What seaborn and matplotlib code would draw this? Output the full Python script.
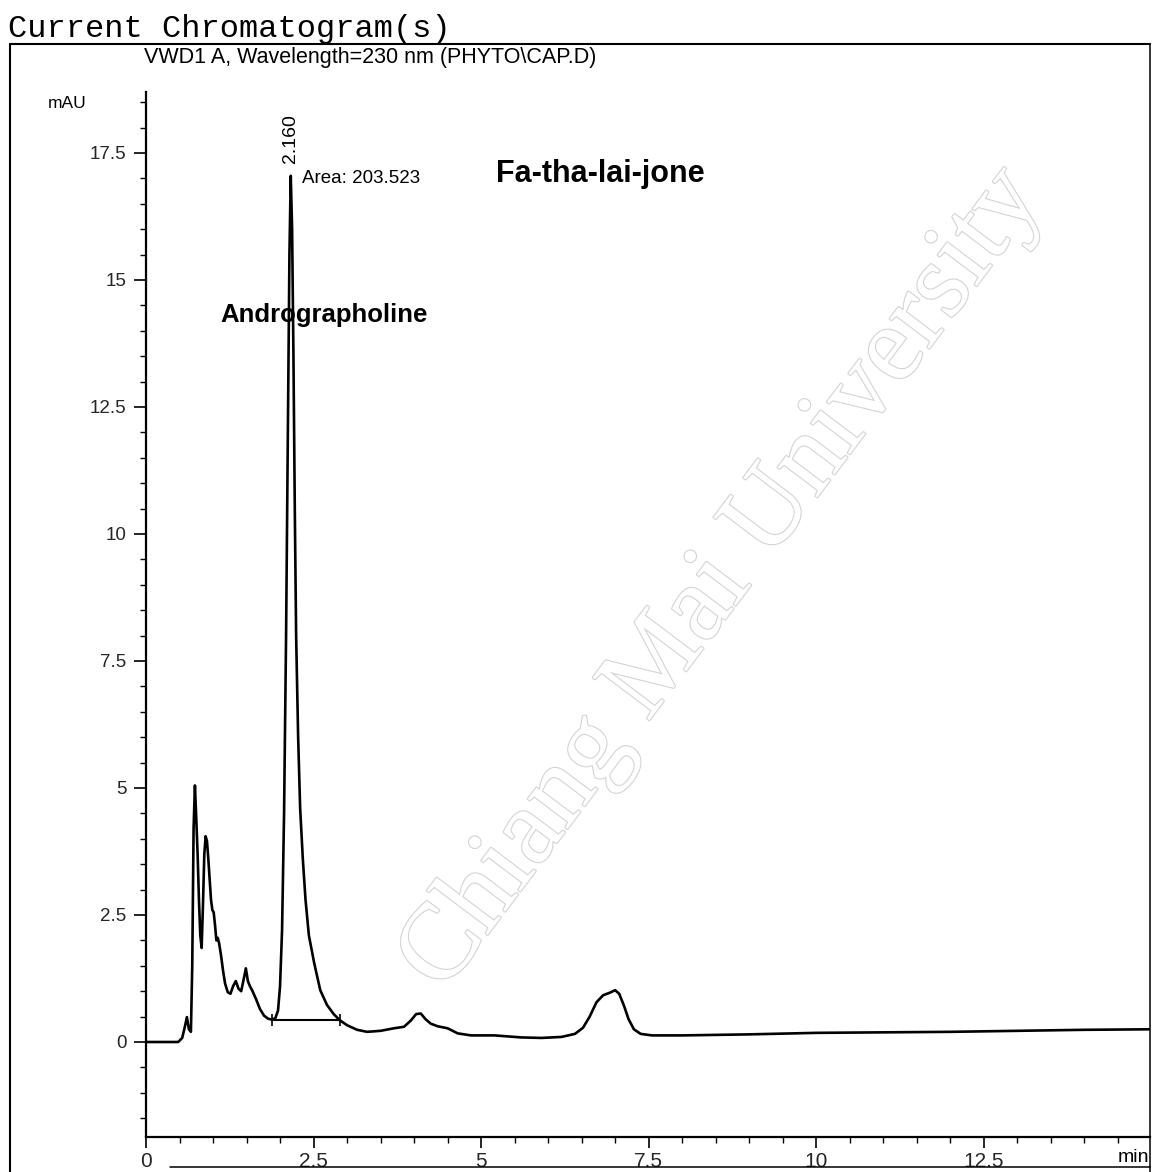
import numpy as np
import pandas as pd
import matplotlib
matplotlib.use("Agg")
import matplotlib.pyplot as plt
import seaborn as sns
import matplotlib.patheffects as pe
from matplotlib.lines import Line2D
from matplotlib.ticker import FixedLocator, FixedFormatter, MultipleLocator

# ---------------- data ----------------
time_min = [
    0.00, 0.48, 0.54, 0.58, 0.61, 0.64, 0.67, 0.69, 0.71, 0.73,
    0.75, 0.77, 0.79, 0.81, 0.83, 0.85, 0.87, 0.89, 0.91, 0.93,
    0.95, 0.97, 0.99, 1.01, 1.03, 1.05, 1.07, 1.09, 1.12, 1.15,
    1.18, 1.22, 1.26, 1.30, 1.34, 1.38, 1.42, 1.46, 1.49, 1.52,
    1.55, 1.59, 1.64, 1.70, 1.76, 1.82, 1.88, 1.93, 1.97, 2.00,
    2.03, 2.06, 2.09, 2.12, 2.14, 2.16, 2.18, 2.20, 2.22, 2.24,
    2.27, 2.30, 2.34, 2.38, 2.43, 2.51, 2.60, 2.70, 2.80, 2.89,
    3.00, 3.15, 3.30, 3.50, 3.70, 3.85, 3.95, 4.03, 4.10, 4.17,
    4.25, 4.35, 4.50, 4.65, 4.85, 5.20, 5.60, 5.90, 6.20, 6.40,
    6.52, 6.62, 6.72, 6.82, 6.92, 7.00, 7.06, 7.13, 7.20, 7.28,
    7.38, 7.55, 8.00, 9.00, 10.00, 11.00, 12.00, 13.00, 14.00, 14.98,
]
signal_mau = [
    0.00, 0.00, 0.08, 0.30, 0.49, 0.25, 0.20, 1.50, 4.20, 5.05,
    4.40, 3.70, 2.80, 2.10, 1.85, 2.70, 3.70, 4.05, 3.95, 3.60,
    3.20, 2.80, 2.60, 2.55, 2.30, 2.00, 2.05, 1.95, 1.70, 1.40,
    1.15, 0.98, 0.95, 1.10, 1.20, 1.05, 1.00, 1.25, 1.45, 1.20,
    1.10, 1.00, 0.85, 0.65, 0.52, 0.46, 0.44, 0.47, 0.62, 1.10,
    2.20, 4.50, 8.00, 12.50, 15.50, 17.05, 16.00, 13.50, 10.50, 8.00,
    6.00, 4.60, 3.60, 2.80, 2.10, 1.55, 1.02, 0.73, 0.55, 0.43,
    0.33, 0.24, 0.20, 0.22, 0.27, 0.30, 0.42, 0.55, 0.56, 0.45,
    0.36, 0.31, 0.27, 0.17, 0.13, 0.13, 0.09, 0.08, 0.10, 0.16,
    0.28, 0.50, 0.78, 0.92, 0.97, 1.02, 0.95, 0.72, 0.45, 0.25,
    0.16, 0.13, 0.13, 0.15, 0.18, 0.19, 0.20, 0.22, 0.24, 0.25,
]

# integration baseline of the main peak
integ_time = [1.88, 2.90]
integ_level = [0.43, 0.43]

peak_rt = 2.160
peak_height = 17.05
peak_area = 203.523

x_ticks = [0, 2.5, 5, 7.5, 10, 12.5]
x_tick_labels = ["0", "2.5", "5", "7.5", "10", "12.5"]
y_ticks = [0, 2.5, 5, 7.5, 10, 12.5, 15, 17.5]
y_tick_labels = ["0", "2.5", "5", "7.5", "10", "12.5", "15", "17.5"]

# ---------------- figure ----------------
sns.set_theme(style="white")
plt.rcParams["font.family"] = ["Liberation Sans", "DejaVu Sans"]

W, H = 1155, 1172
fig = plt.figure(figsize=(W / 100, H / 100), dpi=100)
fig.patch.set_facecolor("white")


def fx(px):
    return px / W


def fy(py):
    return 1 - py / H


ax_left, ax_right, ax_top, ax_bottom = 146, 1150, 92, 1137
ax = fig.add_axes([fx(ax_left), fy(ax_bottom), (ax_right - ax_left) / W, (ax_bottom - ax_top) / H])
ax.set_facecolor("white")

df = pd.DataFrame({"time": time_min, "mAU": signal_mau})
sns.lineplot(data=df, x="time", y="mAU", sort=False, estimator=None,
             color="black", lw=1.9, ax=ax, zorder=3)

base_df = pd.DataFrame({"time": integ_time, "mAU": integ_level})
sns.lineplot(data=base_df, x="time", y="mAU", sort=False, estimator=None,
             color="black", lw=1.5, ax=ax, zorder=3)
ax.plot(integ_time, integ_level, ls="none", marker="|", ms=9, mew=1.2, color="black", zorder=3)

ax.set_xlim(0, 14.98)
ax.set_ylim(-1.87, 18.7)

for s in ["top", "right"]:
    ax.spines[s].set_visible(False)
for s in ["left", "bottom"]:
    ax.spines[s].set_color("black")
    ax.spines[s].set_linewidth(1.6)

ax.xaxis.set_major_locator(FixedLocator(x_ticks))
ax.xaxis.set_major_formatter(FixedFormatter(x_tick_labels))
ax.xaxis.set_minor_locator(MultipleLocator(0.5))
ax.yaxis.set_major_locator(FixedLocator(y_ticks))
ax.yaxis.set_major_formatter(FixedFormatter(y_tick_labels))
ax.yaxis.set_minor_locator(MultipleLocator(0.5))

ax.tick_params(axis="both", which="both", direction="out", color="black",
               bottom=True, left=True, top=False, right=False)
ax.tick_params(axis="y", which="major", length=9, width=1.2, pad=5, labelsize=13.5)
ax.tick_params(axis="y", which="minor", length=4.5, width=1.0)
ax.tick_params(axis="x", which="major", length=8, width=1.2, pad=3, labelsize=15)
ax.tick_params(axis="x", which="minor", length=4.5, width=1.0)
ax.set_xlabel("")
ax.set_ylabel("")

# faint outlined watermark of the scanned page
ax.text(8.6, 9.1, "Chiang Mai University", rotation=53, rotation_mode="anchor",
        ha="center", va="center", fontsize=78, family=["Liberation Serif", "DejaVu Serif"],
        color="white", zorder=1, clip_on=False,
        path_effects=[pe.withStroke(linewidth=1.6, foreground="#d4d4d4")])

# peak annotations
ax.text(peak_rt, peak_height + 0.25, f"{peak_rt:.3f}", rotation=90,
        ha="center", va="bottom", fontsize=14, color="black", zorder=4)
ax.text(peak_rt + 0.17, peak_height - 0.05, f"Area: {peak_area:.3f}",
        ha="left", va="center", fontsize=13.5, color="black", zorder=4)

# ---------------- header / labels ----------------
fig.text(fx(8), fy(29), "Current Chromatogram(s)", ha="left", va="center",
         fontsize=23, family=["Liberation Mono", "DejaVu Sans Mono"], color="black")
fig.text(fx(370), fy(58), "VWD1 A, Wavelength=230 nm (PHYTO\\CAP.D)", ha="center", va="center",
         fontsize=15.5, color="black")
fig.text(fx(67), fy(103), "mAU", ha="center", va="center", fontsize=12.5, color="black")
fig.text(fx(1133), fy(1157), "min", ha="center", va="center", fontsize=14, color="black")
fig.text(fx(600), fy(174), "Fa-tha-lai-jone", ha="center", va="center",
         fontsize=22, fontweight="bold", color="black")
fig.text(fx(324), fy(315), "Andrographoline", ha="center", va="center",
         fontsize=18.5, fontweight="bold", color="black")

# frame lines of the printout
frame_kw = dict(color="black", lw=1.5, transform=fig.transFigure)
fig.add_artist(Line2D([fx(10), fx(1150)], [fy(44), fy(44)], **frame_kw))
fig.add_artist(Line2D([fx(10), fx(10)], [fy(44), fy(1172)], **frame_kw))
fig.add_artist(Line2D([fx(1150), fx(1150)], [fy(44), fy(1172)], color="black", lw=1.1,
                      transform=fig.transFigure))
fig.add_artist(Line2D([fx(170), fx(1150)], [fy(1167), fy(1167)], color="black", lw=1.1,
                      transform=fig.transFigure))

fig.savefig("out.png", dpi=100, facecolor="white")
